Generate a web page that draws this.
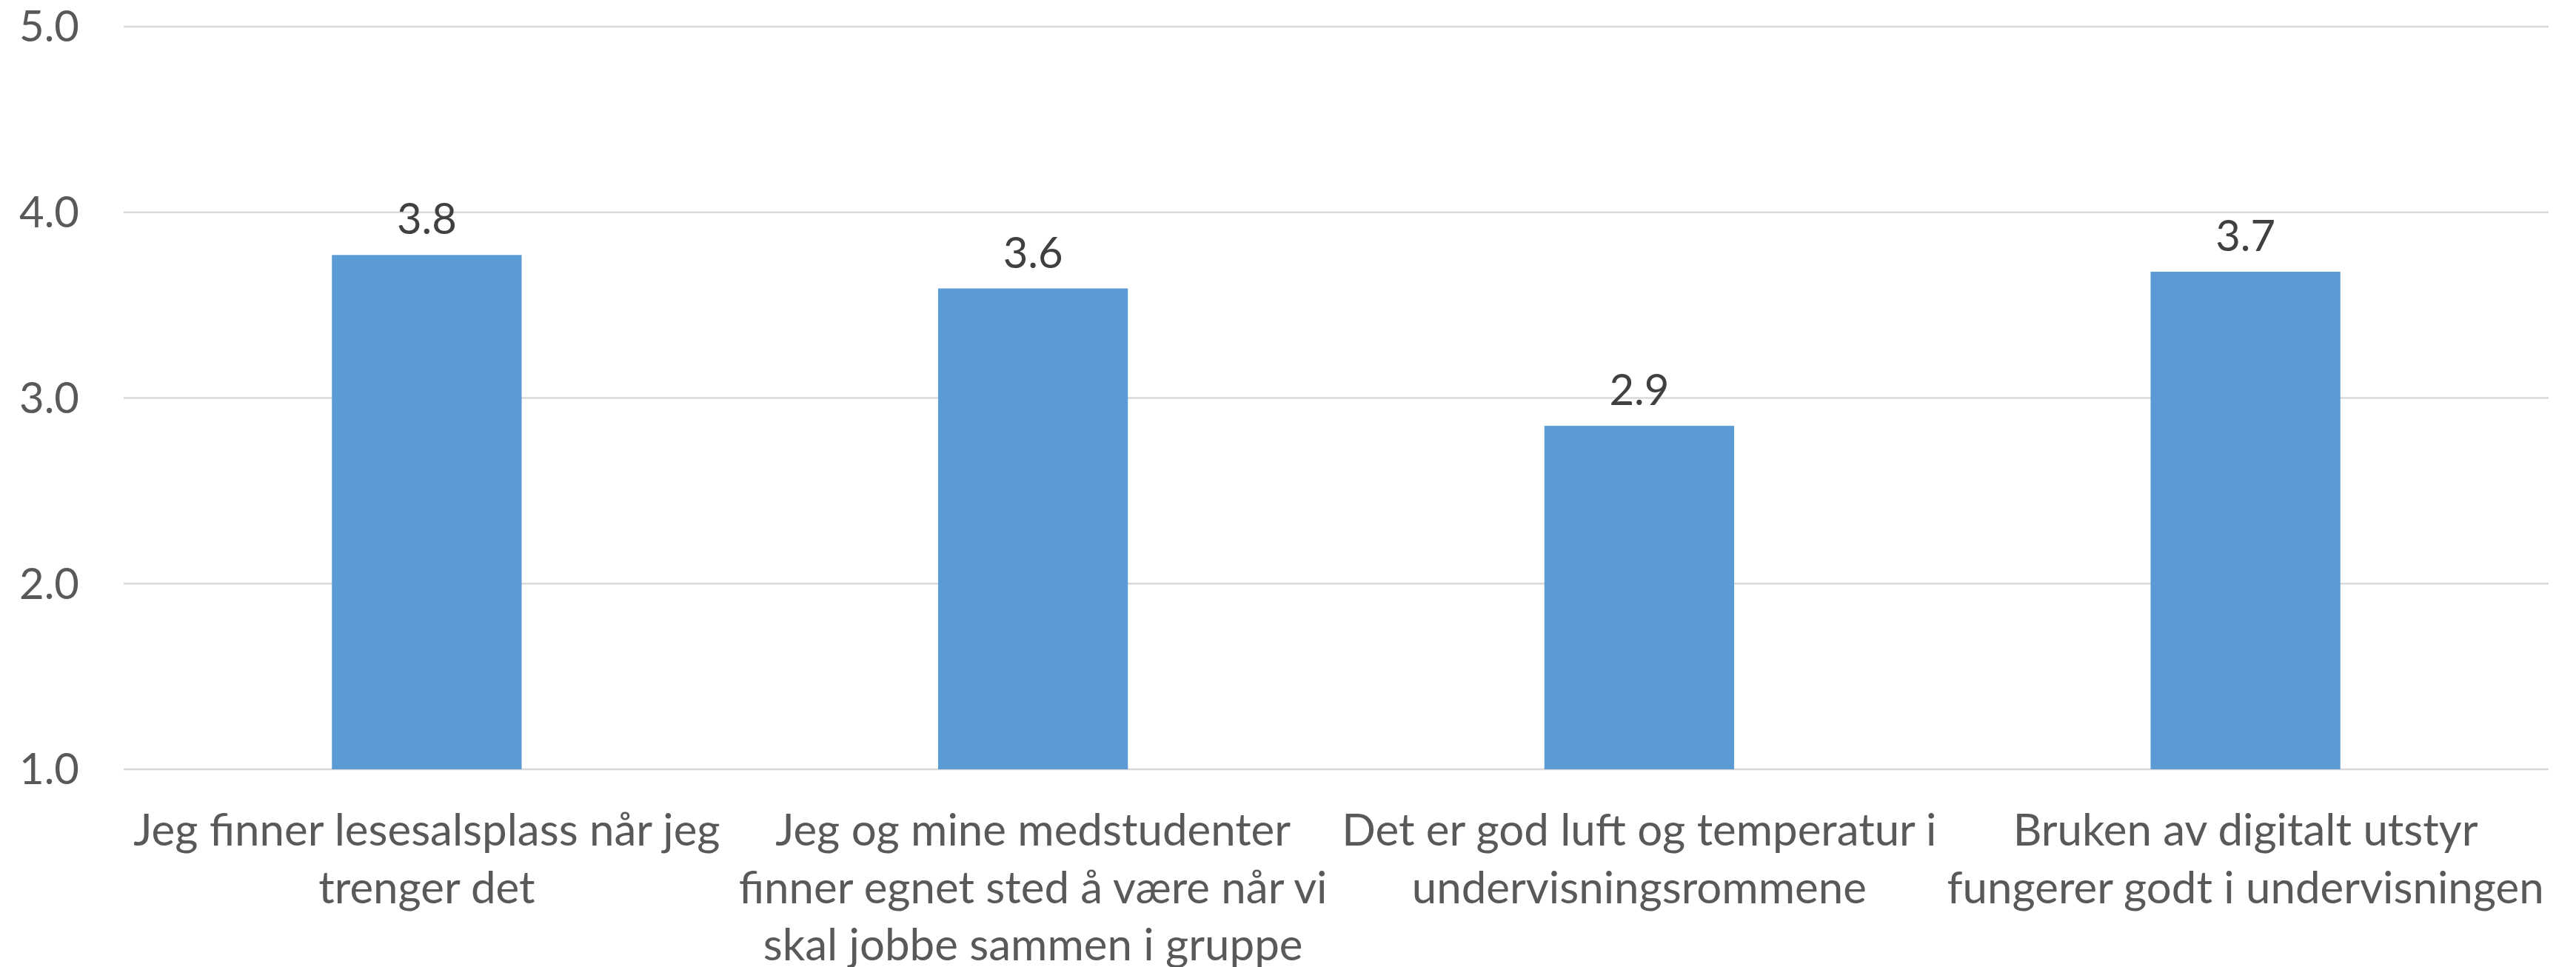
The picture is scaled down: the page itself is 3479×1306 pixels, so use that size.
<!DOCTYPE html>
<html lang="no">
  <head>
    <meta charset="utf-8" />
    <title>D3: survey bar chart</title>
    <script type="text/javascript" src="https://d3js.org/d3.v7.min.js"></script>
    <style>
      body { margin: 0; background: #fff; }
    </style>
  </head>
  <body>
    <script type="text/javascript">
      // category labels, already split on lines the way they wrap in the original
      var categories = [
        ["Jeg finner lesesalsplass når jeg", "trenger det"],
        ["Jeg og mine medstudenter", "finner egnet sted å være når vi", "skal jobbe sammen i gruppe"],
        ["Det er god luft og temperatur i", "undervisningsrommene"],
        ["Bruken av digitalt utstyr", "fungerer godt i undervisningen"]
      ];
      var values = [3.77, 3.59, 2.85, 3.68];
      var yTicks = [1, 2, 3, 4, 5];

      var width = 3479, height = 1306;
      var margin = { top: 36, right: 37, bottom: 267, left: 167 };

      var svg = d3
        .select("body")
        .append("svg")
        .attr("width", width)
        .attr("height", height);

      var x = d3
        .scaleBand()
        .domain(d3.range(categories.length))
        .range([margin.left, width - margin.right])
        .paddingInner(0.687)
        .paddingOuter(0.3435);

      var y = d3
        .scaleLinear()
        .domain([1, 5])
        .range([height - margin.bottom, margin.top]);

      // gridlines
      svg
        .append("g")
        .selectAll("line")
        .data(yTicks)
        .enter()
        .append("line")
        .attr("x1", margin.left)
        .attr("x2", width - margin.right)
        .attr("y1", function (d) { return y(d); })
        .attr("y2", function (d) { return y(d); })
        .attr("stroke", "#d9d9d9")
        .attr("stroke-width", 2.5);

      // y tick labels
      svg
        .append("g")
        .selectAll("text")
        .data(yTicks)
        .enter()
        .append("text")
        .attr("x", 107)
        .attr("y", function (d) { return y(d); })
        .attr("dy", "0.35em")
        .attr("text-anchor", "end")
        .attr("font-family", "Lato")
        .attr("font-size", 58)
        .attr("fill", "#595959")
        .text(function (d) { return d.toFixed(1); });

      // bars
      svg
        .append("g")
        .selectAll("rect")
        .data(values)
        .enter()
        .append("rect")
        .attr("x", function (d, i) { return x(i); })
        .attr("width", x.bandwidth())
        .attr("y", function (d) { return y(d); })
        .attr("height", function (d) { return y(1) - y(d); })
        .attr("fill", "#5b9bd5");

      // value labels
      svg
        .append("g")
        .selectAll("text")
        .data(values)
        .enter()
        .append("text")
        .attr("x", function (d, i) { return x(i) + x.bandwidth() / 2; })
        .attr("y", function (d) { return y(d) - 28; })
        .attr("text-anchor", "middle")
        .attr("font-family", "Lato")
        .attr("font-size", 58)
        .attr("fill", "#404040")
        .text(function (d) { return d.toFixed(1); });

      // category labels
      var cat = svg
        .append("g")
        .selectAll("text")
        .data(categories)
        .enter()
        .append("text")
        .attr("text-anchor", "middle")
        .attr("font-family", "Lato")
        .attr("font-size", 60)
        .attr("fill", "#595959");

      cat
        .selectAll("tspan")
        .data(function (d, i) {
          return d.map(function (line) { return { line: line, i: i }; });
        })
        .enter()
        .append("tspan")
        .attr("x", function (d) { return x(d.i) + x.bandwidth() / 2; })
        .attr("y", function (d, j) { return y(1) + 103 + j * 77.5; })
        .text(function (d) { return d.line; });
    </script>
  </body>
</html>
